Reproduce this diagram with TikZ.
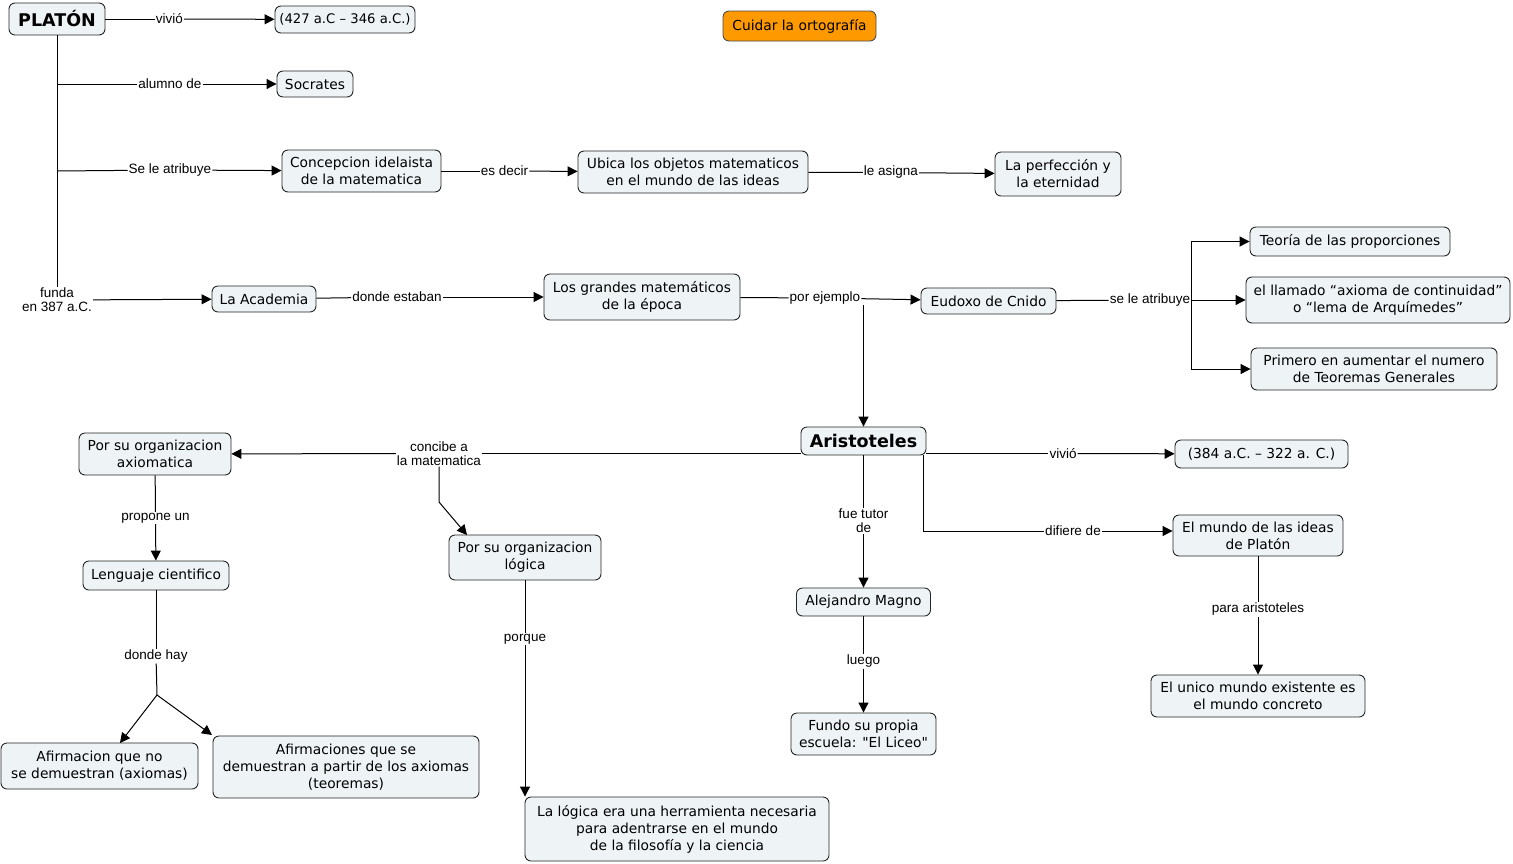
\documentclass[tikz,border=0pt]{standalone}
\usepackage{fontspec}
\setmainfont{DejaVu Sans}[Ligatures=TeXOff]
\newfontfamily\lblfont{Liberation Sans}
\usetikzlibrary{arrows.meta,calc}
\definecolor{boxfill}{RGB}{238,243,246}
\definecolor{orangefill}{RGB}{255,153,0}
\tikzset{
  cbox/.style={draw=black!85, fill=boxfill, rounded corners=6pt, line width=0.9pt, align=center, inner sep=0pt, font=\fontsize{13.8}{17}\selectfont},
  tbox/.style={cbox, font=\bfseries\fontsize{17.5}{20}\selectfont},
  obox/.style={cbox, fill=orangefill, draw=black!70},
  lbl/.style={fill=white, inner sep=1pt, align=center, font=\lblfont\fontsize{13.5}{14}\selectfont},
  ln/.style={line width=1pt, draw=black},
  arr/.style={ln, -{Triangle[length=10pt,width=10pt]}},
}
\begin{document}
\begin{tikzpicture}[x=1pt,y=-1pt]
\useasboundingbox (0,0) rectangle (1513,863);
% boxes
\node[tbox, minimum width=96, minimum height=32] (platon) at (57,19) {PLATÓN};
\node[cbox, minimum width=140, minimum height=27, font=\fontsize{13.2}{17}\selectfont] (p427) at (345,19.5) {(427 a.C – 346 a.C.)};
\node[obox, minimum width=153, minimum height=30] (cuidar) at (799.5,26) {Cuidar la ortografía};
\node[cbox, minimum width=76, minimum height=26] (socrates) at (315,84) {Socrates};
\node[cbox, minimum width=159, minimum height=42] (concep) at (361.5,171) {Concepcion idelaista\\de la matematica};
\node[cbox, minimum width=230, minimum height=42] (ubica) at (693,172) {Ubica los objetos matematicos\\en el mundo de las ideas};
\node[cbox, minimum width=126, minimum height=44] (perf) at (1058,174) {La perfección y\\la eternidad};
\node[cbox, minimum width=104, minimum height=26] (academia) at (264,299) {La Academia};
\node[cbox, minimum width=196, minimum height=46] (grandes) at (642,297) {Los grandes matemáticos\\de la época};
\node[cbox, minimum width=135, minimum height=26] (eudoxo) at (988.5,301) {Eudoxo de Cnido};
\node[cbox, minimum width=200, minimum height=29] (teoria) at (1350,241.5) {Teoría de las proporciones};
\node[cbox, minimum width=264, minimum height=46] (llamado) at (1378,300) {el llamado “axioma de continuidad”\\o “lema de Arquímedes”};
\node[cbox, minimum width=246, minimum height=42] (primero) at (1374,369) {Primero en aumentar el numero\\de Teoremas Generales};
\node[tbox, minimum width=125, minimum height=28] (aristo) at (863.5,441) {Aristoteles};
\node[cbox, minimum width=173, minimum height=28] (a384) at (1261.5,454) {(384 a.C. – 322 a. C.)};
\node[cbox, minimum width=152, minimum height=42] (axiom) at (155,454) {Por su organizacion\\axiomatica};
\node[cbox, minimum width=146, minimum height=29] (lenguaje) at (156,575.5) {Lenguaje cientifico};
\node[cbox, minimum width=152, minimum height=45] (logica) at (525,557.5) {Por su organizacion\\lógica};
\node[cbox, minimum width=134, minimum height=28] (alejandro) at (863.5,602) {Alejandro Magno};
\node[cbox, minimum width=145, minimum height=42] (fundo) at (863.5,734) {Fundo su propia\\escuela: "El Liceo"};
\node[cbox, minimum width=170, minimum height=41] (mundo) at (1258,535.5) {El mundo de las ideas\\de Platón};
\node[cbox, minimum width=214, minimum height=42] (unico) at (1258,696) {El unico mundo existente es\\el mundo concreto};
\node[cbox, minimum width=197, minimum height=46] (afirm1) at (99.5,766) {Afirmacion que no\\se demuestran (axiomas)};
\node[cbox, minimum width=266, minimum height=62] (afirm2) at (346,767) {Afirmaciones que se\\demuestran a partir de los axiomas\\(teoremas)};
\node[cbox, minimum width=304, minimum height=64] (lalogica) at (677,829) {La lógica era una herramienta necesaria\\para adentrarse en el mundo\\de la filosofía y la ciencia};
% labels
\node[lbl] (lviv1) at (169.5,19) {vivió};
\node[lbl] (lalum) at (170,84) {alumno de};
\node[lbl] (lseatr) at (170,170) {Se le atribuye};
\node[lbl] (lfunda) at (57,300) {funda\\en 387 a.C.};
\node[lbl] (ldecir) at (504.5,171) {es decir};
\node[lbl] (lasig) at (891,172.5) {le asigna};
\node[lbl] (ldonde) at (397,297) {donde estaban};
\node[lbl] (lpor) at (825,298) {por ejemplo};
\node[lbl] (lseatr2) at (1150,300) {se le atribuye};
\node[lbl] (lviv2) at (1063,453.5) {vivió};
\node[lbl] (ldif) at (1073,531) {difiere de};
\node[lbl] (ltutor) at (863.5,521) {fue tutor\\de};
\node[lbl] (lconc) at (439,453.5) {concibe a\\la matematica};
\node[lbl] (lprop) at (155.5,518) {propone un};
\node[lbl] (lhay) at (156,656) {donde hay};
\node[lbl] (lporq) at (525,639) {porque};
\node[lbl] (lluego) at (863.5,661) {luego};
\node[lbl] (lpara) at (1258,609) {para aristoteles};
% helper coordinates
\coordinate (t1) at (57,84);
\coordinate (t2) at (57,171);
\coordinate (bend1) at (439,502);
\coordinate (logtop) at (467,535);
\coordinate (dstart) at (923,455);
\coordinate (split) at (157,695);
\coordinate (af1top) at (120,743);
\coordinate (af2top) at (212,735);
% connectors
\draw[ln] (platon) -- (lviv1);
\draw[arr] (lviv1) -- (p427);
\draw[ln] (platon.south) -- (lfunda.north);
\draw[ln] (t1) -- (lalum);
\draw[arr] (lalum) -- (socrates);
\draw[ln] (t2) -- (lseatr);
\draw[arr] (lseatr) -- (concep);
\draw[arr] (lfunda) -- (academia);
\draw[ln] (concep) -- (ldecir);
\draw[arr] (ldecir) -- (ubica);
\draw[ln] (ubica) -- (lasig);
\draw[arr] (lasig) -- (perf);
\draw[ln] (academia) -- (ldonde);
\draw[arr] (ldonde) -- (grandes);
\draw[ln] (grandes) -- (lpor);
\draw[arr] (lpor) -- (eudoxo);
\draw[arr] (aristo.north |- lpor.south) -- (aristo.north);
\draw[ln] (eudoxo) -- (lseatr2);
\draw[arr] (lseatr2.east) |- (teoria.west);
\draw[arr] (lseatr2) -- (llamado);
\draw[arr] (lseatr2.east) |- (primero.west);
\draw[ln] (aristo.east |- lviv2) -- (lviv2);
\draw[arr] (lviv2) -- (a384);
\draw[ln] (dstart) |- (ldif);
\draw[arr] (ldif) -- (ldif -| mundo.west);
\draw[ln] (aristo) -- (ltutor);
\draw[arr] (ltutor) -- (alejandro);
\draw[ln] (aristo.west |- lconc) -- (lconc);
\draw[arr] (lconc) -- (axiom);
\draw[arr] (lconc.south) -- (bend1) -- (logtop);
\draw[ln] (axiom) -- (lprop);
\draw[arr] (lprop) -- (lenguaje);
\draw[ln] (lenguaje) -- (lhay);
\draw[ln] (lhay) -- (split);
\draw[arr] (split) -- (af1top);
\draw[arr] (split) -- (af2top);
\draw[ln] (logica) -- (lporq);
\draw[arr] (lporq) -- (lporq |- lalogica.north);
\draw[ln] (alejandro) -- (lluego);
\draw[arr] (lluego) -- (fundo);
\draw[ln] (mundo) -- (lpara);
\draw[arr] (lpara) -- (unico);
\end{tikzpicture}
\end{document}
